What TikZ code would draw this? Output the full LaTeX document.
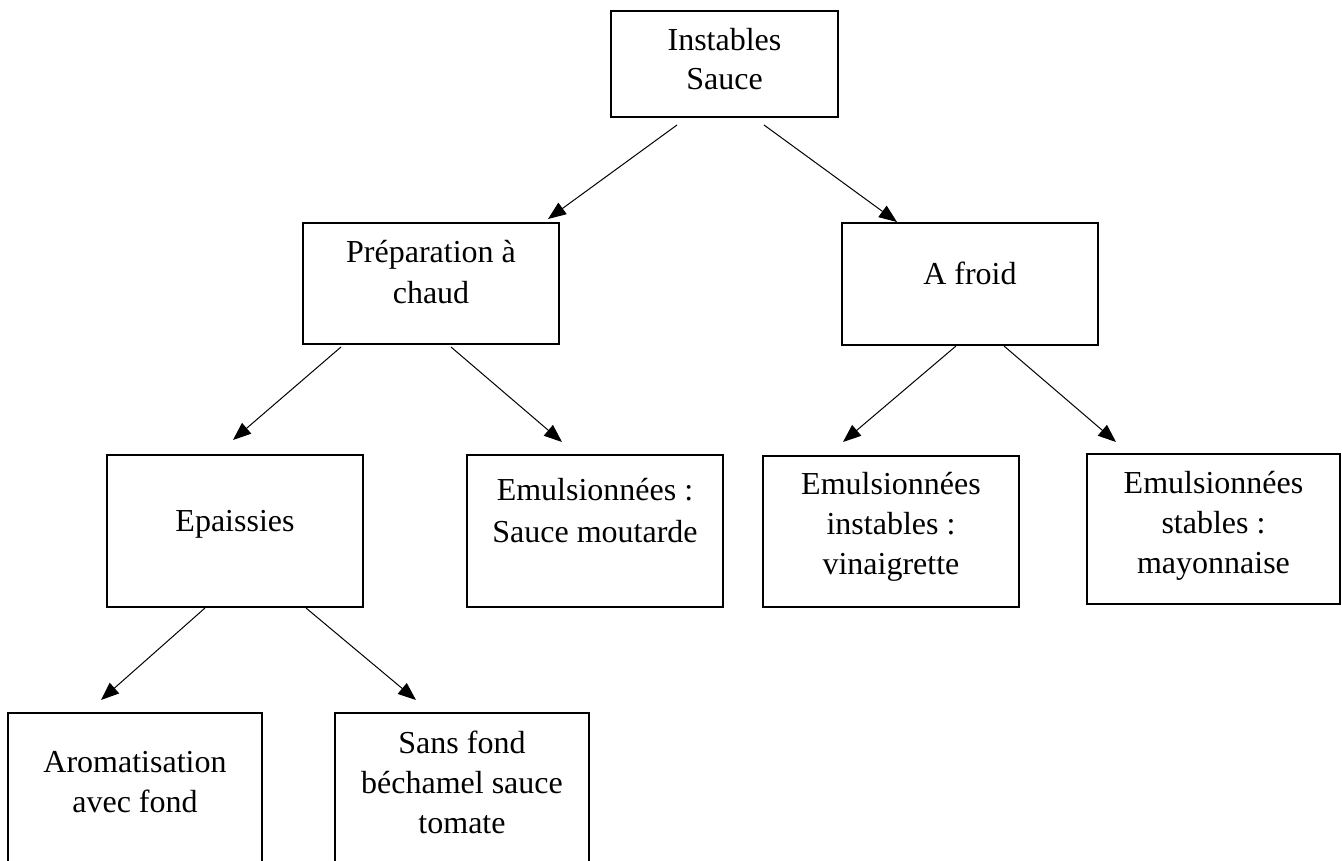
\documentclass[tikz,border=0pt]{standalone}
\usepackage{fontspec}
\setmainfont{Liberation Serif}
\usetikzlibrary{arrows.meta,calc}
\newcommand{\bxt}[5]{\parbox[t][#2pt][t]{#1pt}{\centering\fontsize{32}{#4}\selectfont\rule{0pt}{#3pt}#5\par}}
\begin{document}
\begin{tikzpicture}[x=1pt,y=-1pt,
  sbox/.style={draw, line width=2.8pt, inner sep=0pt, outer sep=0pt, anchor=north west},
  conn/.style={line width=1pt, -{Triangle[length=18pt,width=14pt]}}]
\useasboundingbox (0,0) rectangle (1342,861);
\fill[white] (0,0) rectangle (1342,861);
\clip (0,0) rectangle (1342,861);
% boxes
\node[sbox] (top)  at (611,11)   {\bxt{227}{106}{40}{39}{Instables\\Sauce}};
\node[sbox] (prep) at (303,223)  {\bxt{256}{121}{40}{40}{Préparation à\\chaud}};
\node[sbox] (froid) at (842,223) {\bxt{256}{122}{61}{40}{A froid}};
\node[sbox] (epa)  at (107,455)  {\bxt{256}{152}{76}{40}{Epaissies}};
\node[sbox] (mou)  at (467,455)  {\bxt{256}{152}{45}{42}{Emulsionnées :\\Sauce moutarde}};
\node[sbox] (vin)  at (763,456)  {\bxt{256}{151}{38}{40}{Emulsionnées\\instables :\\vinaigrette}};
\node[sbox] (may)  at (1087,454) {\bxt{253}{150}{39}{40}{Emulsionnées\\stables :\\mayonnaise}};
\node[sbox] (aro)  at (8,713)    {\bxt{254}{160}{59}{40}{Aromatisation\\avec fond}};
\node[sbox] (sans) at (335,713)  {\bxt{254}{160}{40}{40}{Sans fond\\béchamel sauce\\tomate}};
% connectors
\draw[conn] ($(top.south west)+(66,8)$)   -- ($(prep.north west)+(245,-4)$);
\draw[conn] ($(top.south west)+(153,8)$)  -- ($(froid.north west)+(55,-1)$);
\draw[conn] ($(prep.south west)+(38,3)$)  -- ($(epa.north west)+(126,-15)$);
\draw[conn] ($(prep.south west)+(148,3)$) -- ($(mou.north west)+(95,-13)$);
\draw[conn] ($(froid.south west)+(114,1)$) -- ($(vin.north west)+(80,-14)$);
\draw[conn] ($(froid.south west)+(162,1)$) -- ($(may.north west)+(29,-12)$);
\draw[conn] ($(epa.south west)+(98,1)$)   -- ($(aro.north west)+(93,-13)$);
\draw[conn] ($(epa.south west)+(199,1)$)  -- ($(sans.north west)+(81,-13)$);
\end{tikzpicture}
\end{document}
